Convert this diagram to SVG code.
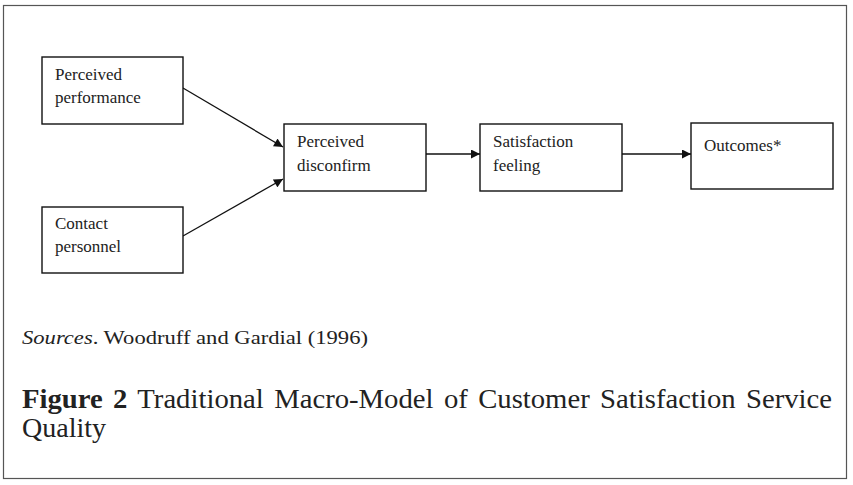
<svg xmlns="http://www.w3.org/2000/svg" width="853" height="485" viewBox="0 0 853 485">
  <style>
    .frame { fill: #ffffff; stroke: #555555; stroke-width: 1.2; }
    .box { fill: #ffffff; stroke: #111111; stroke-width: 1.4; }
    .lbl { font-family: "Liberation Serif", "DejaVu Serif", serif; font-size: 17px; fill: #222222; }
    .edge { fill: none; stroke: #111111; stroke-width: 1.3; marker-end: url(#arrow); }
    .src { font-family: "Liberation Serif", "DejaVu Serif", serif; font-size: 19.5px; fill: #222222; }
    .cap { font-family: "Liberation Serif", "DejaVu Serif", serif; font-size: 27px; fill: #222222; }
  </style>
  <defs>
    <marker id="arrow" viewBox="0 0 10 10" refX="10" refY="5" markerWidth="10" markerHeight="9" markerUnits="userSpaceOnUse" orient="auto">
      <path d="M0,0 L10,5 L0,10 z" fill="#111111"/>
    </marker>
  </defs>

  <rect width="853" height="485" fill="#ffffff"/>
  <rect class="frame" x="3.5" y="5.5" width="843" height="473"/>

  <g id="connectors">
    <line class="edge" x1="183" y1="88" x2="283" y2="147"/>
    <line class="edge" x1="183" y1="236" x2="283" y2="179"/>
    <line class="edge" x1="426" y1="154" x2="480" y2="154"/>
    <line class="edge" x1="622" y1="154" x2="691" y2="154"/>
  </g>

  <g id="perceived-performance">
    <rect class="box" x="42" y="57" width="141" height="67"/>
    <text class="lbl" x="55" y="80">Perceived</text>
    <text class="lbl" x="55" y="103">performance</text>
  </g>

  <g id="contact-personnel">
    <rect class="box" x="42" y="207" width="141" height="66"/>
    <text class="lbl" x="55" y="229">Contact</text>
    <text class="lbl" x="55" y="252">personnel</text>
  </g>

  <g id="perceived-disconfirm">
    <rect class="box" x="284" y="124" width="142" height="67"/>
    <text class="lbl" x="297" y="147">Perceived</text>
    <text class="lbl" x="297" y="171">disconfirm</text>
  </g>

  <g id="satisfaction-feeling">
    <rect class="box" x="480" y="124" width="142" height="67"/>
    <text class="lbl" x="493" y="147">Satisfaction</text>
    <text class="lbl" x="493" y="171">feeling</text>
  </g>

  <g id="outcomes">
    <rect class="box" x="691" y="123" width="142" height="66"/>
    <text class="lbl" x="704" y="151">Outcomes*</text>
  </g>

  <text class="src" x="22" y="344" textLength="346" lengthAdjust="spacingAndGlyphs"><tspan font-style="italic">Sources</tspan>. Woodruff and Gardial (1996)</text>
  <text class="cap" x="22" y="408" word-spacing="3" textLength="810" lengthAdjust="spacingAndGlyphs"><tspan font-weight="bold">Figure 2</tspan> Traditional Macro-Model of Customer Satisfaction Service</text>
  <text class="cap" x="22" y="437" textLength="84" lengthAdjust="spacingAndGlyphs">Quality</text>
</svg>
